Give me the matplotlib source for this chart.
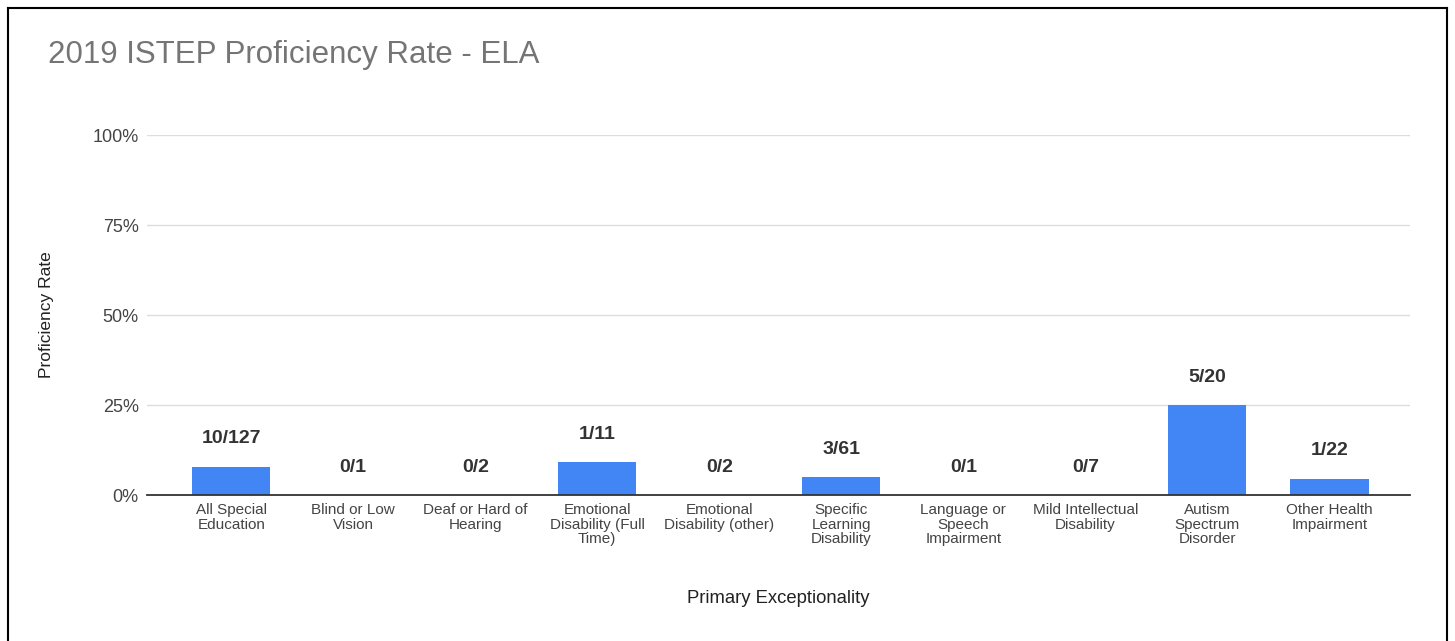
import numpy as np
import matplotlib.pyplot as plt
from matplotlib.lines import Line2D

plt.rcParams['font.family'] = ['Liberation Sans', 'DejaVu Sans']

# Primary exceptionality groups and ISTEP ELA counts (proficient / tested)
categories = ["All Special\nEducation", "Blind or Low\nVision", "Deaf or Hard of\nHearing",
              "Emotional\nDisability (Full\nTime)", "Emotional\nDisability (other)",
              "Specific\nLearning\nDisability", "Language or\nSpeech\nImpairment",
              "Mild Intellectual\nDisability", "Autism\nSpectrum\nDisorder",
              "Other Health\nImpairment"]
proficient = [10, 0, 0, 1, 0, 3, 0, 0, 5, 1]
tested = [127, 1, 2, 11, 2, 61, 1, 7, 20, 22]

rate = np.array(proficient) / np.array(tested)
x = np.arange(len(categories))

fig = plt.figure(figsize=(14.55, 6.41), dpi=100)
ax = fig.add_axes([147 / 1455, 1 - 495 / 641, 1263 / 1455, 360 / 641])

ax.bar(x, rate, width=0.64, color="#4285f4", zorder=3)
for xi, r, n, d in zip(x, rate, proficient, tested):
    ax.annotate(f"{n}/{d}", (xi, r), xytext=(0, 20), textcoords="offset points",
                ha="center", va="center", fontsize=14, fontweight="bold", color="#333333")

ax.set_xlim(-0.69, 9.66)
ax.set_ylim(0, 1)
ax.set_yticks([0, 0.25, 0.5, 0.75, 1.0])
ax.set_yticklabels(["0%", "25%", "50%", "75%", "100%"])
ax.set_xticks(x)
ax.set_xticklabels(categories, fontsize=11, color="#444444", linespacing=1.02)
ax.tick_params(axis="x", length=0, pad=6)
ax.tick_params(axis="y", length=0, pad=6, labelsize=13, labelcolor="#444444")

ax.grid(axis="y", color="#dddddd", linewidth=1, zorder=0)
for s in ["top", "right", "left"]:
    ax.spines[s].set_visible(False)
ax.spines["bottom"].set_color("#333333")
ax.spines["bottom"].set_linewidth(1.3)
ax.spines["bottom"].set_zorder(4)

ax.set_ylabel("Proficiency Rate", fontsize=12.5, color="#222222", labelpad=28)
ax.set_xlabel("Primary Exceptionality", fontsize=13.3, color="#222222", labelpad=32)

fig.text(48 / 1455, 1 - 55 / 641, "2019 ISTEP Proficiency Rate - ELA",
         fontsize=22.5, color="#757575", va="center", ha="left")

# thin black frame around the chart
for xs, ys in [([8, 8], [8, 641]), ([8, 1447], [8, 8]), ([1447, 1447], [8, 641])]:
    fig.add_artist(Line2D([v / 1455 for v in xs], [1 - v / 641 for v in ys],
                          color="black", linewidth=1.5))

fig.savefig("out.png", dpi=100, facecolor="white")
